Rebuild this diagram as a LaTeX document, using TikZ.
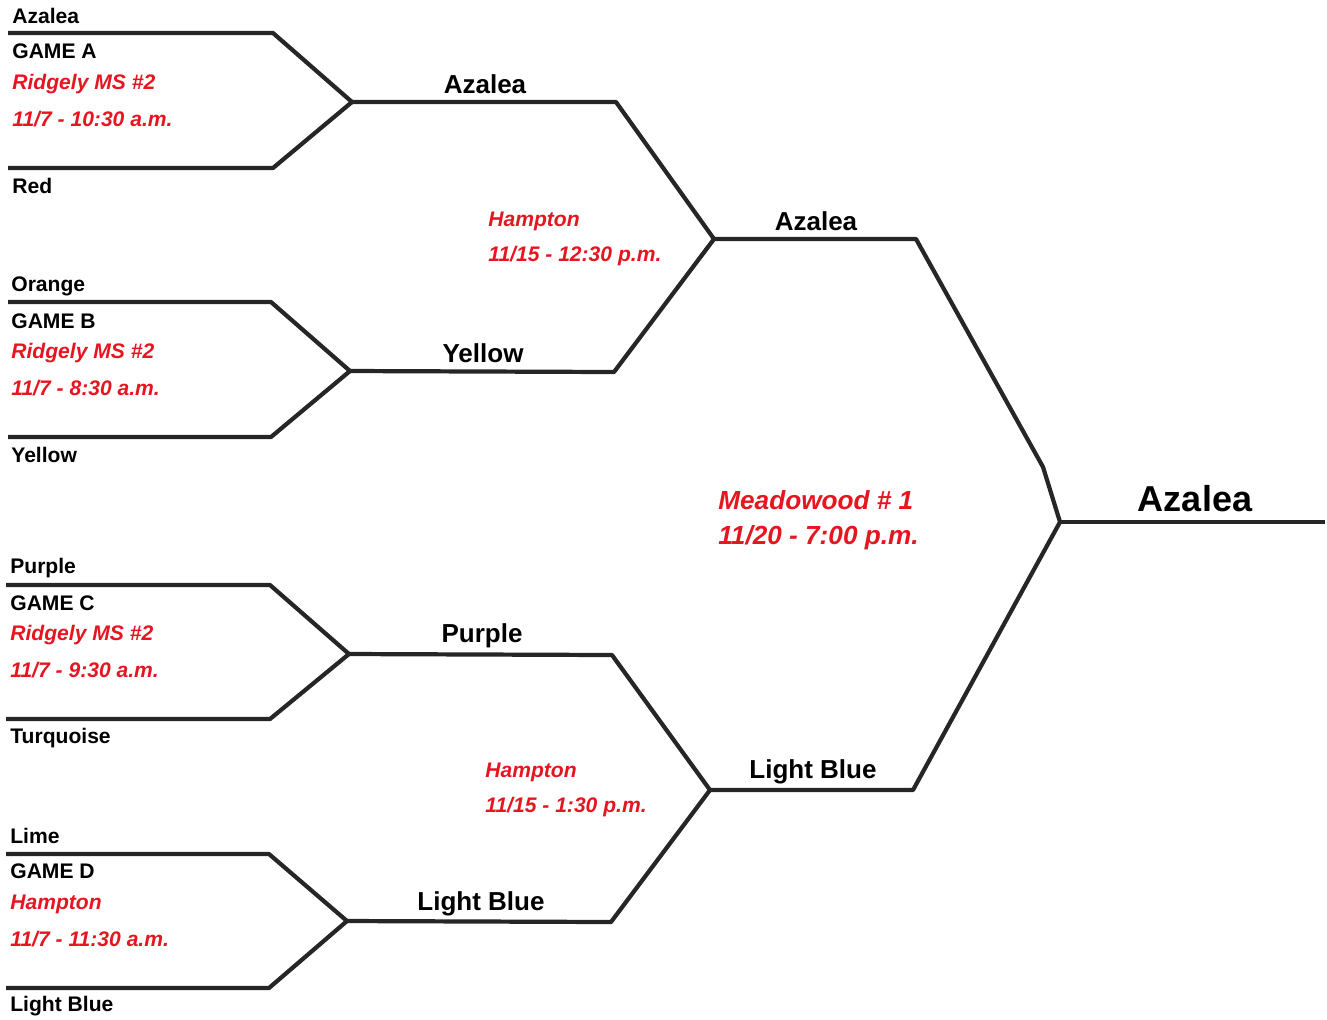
\documentclass[tikz,border=0pt]{standalone}
\usepackage{fontspec}
\setmainfont{Liberation Sans}
\definecolor{gamered}{RGB}{228,22,32}
\definecolor{linegray}{RGB}{38,38,38}
\tikzset{
  bracket/.style={draw=linegray,line width=2.4pt,line join=round},
  team/.style={anchor=west,inner sep=0pt,font=\fontsize{12}{14}\selectfont\bfseries},
  site/.style={anchor=west,inner sep=0pt,text=gamered,font=\fontsize{12}{14}\selectfont\bfseries\itshape},
  winner/.style={inner sep=0pt,font=\fontsize{14.8}{17}\selectfont\bfseries},
  champ/.style={inner sep=0pt,font=\fontsize{20.5}{24}\selectfont\bfseries},
  finalsite/.style={anchor=west,inner sep=0pt,text=gamered,font=\fontsize{14.9}{17}\selectfont\bfseries\itshape}
}
\begin{document}
\begin{tikzpicture}[x=0.02cm,y=-0.02cm]
  \useasboundingbox (0,0) rectangle (1327,1019);
  % round one
  \coordinate (a1) at (8,33);    \coordinate (a1e) at (273,33);
  \coordinate (a2) at (8,168);   \coordinate (a2e) at (273,168);
  \coordinate (aw) at (352,102);
  \coordinate (b1) at (8,302);   \coordinate (b1e) at (271,302);
  \coordinate (b2) at (8,437);   \coordinate (b2e) at (271,437);
  \coordinate (bw) at (350,371);
  \coordinate (c1) at (6,585);   \coordinate (c1e) at (270,585);
  \coordinate (c2) at (6,719);   \coordinate (c2e) at (270,719);
  \coordinate (cw) at (349,654);
  \coordinate (d1) at (6,854);   \coordinate (d1e) at (269,854);
  \coordinate (d2) at (6,988);   \coordinate (d2e) at (269,988);
  \coordinate (dw) at (347,921);
  % round two
  \coordinate (abe) at (616,102);
  \coordinate (bbe) at (614,372);
  \coordinate (ab) at (714,239);
  \coordinate (cde) at (612,655);
  \coordinate (dde) at (611,922);
  \coordinate (cd) at (710,790);
  % final
  \coordinate (abf) at (916,239);
  \coordinate (abk) at (1043,467);
  \coordinate (cdf) at (913,790);
  \coordinate (fin) at (1060,522);
  \coordinate (fine) at (1325,522);

  \draw[bracket] (a1) -- (a1e) -- (aw) -- (a2e) -- (a2);
  \draw[bracket] (b1) -- (b1e) -- (bw) -- (b2e) -- (b2);
  \draw[bracket] (c1) -- (c1e) -- (cw) -- (c2e) -- (c2);
  \draw[bracket] (d1) -- (d1e) -- (dw) -- (d2e) -- (d2);
  \draw[bracket] (aw) -- (abe) -- (ab) -- (bbe) -- (bw);
  \draw[bracket] (cw) -- (cde) -- (cd) -- (dde) -- (dw);
  \draw[bracket] (ab) -- (abf) -- (abk) -- (fin) -- (cdf) -- (cd);
  \draw[bracket] (fin) -- (fine);

  % game A
  \node[team] (ta1) at (12,16) {Azalea};
  \node[team] (ga) at (12,51) {GAME A};
  \node[site] (sa) at (12,84) {Ridgely MS \#2};
  \node[site] (da) at (12,119) {11/7 - 10:30 a.m.};
  \node[team] (ta2) at (12,186) {Red};
  % game B
  \node[team] (tb1) at (11,286) {Orange};
  \node[team] (gb) at (11,321) {GAME B};
  \node[site] (sb) at (11,353) {Ridgely MS \#2};
  \node[site] (db) at (11,388) {11/7 - 8:30 a.m.};
  \node[team] (tb2) at (11,455) {Yellow};
  % game C
  \node[team] (tc1) at (10,568) {Purple};
  \node[team] (gc) at (10,603) {GAME C};
  \node[site] (sc) at (10,635) {Ridgely MS \#2};
  \node[site] (dc) at (10,670) {11/7 - 9:30 a.m.};
  \node[team] (tc2) at (10,738) {Turquoise};
  % game D
  \node[team] (td1) at (10,836) {Lime};
  \node[team] (gd) at (10,871) {GAME D};
  \node[site] (sd) at (10,904) {Hampton};
  \node[site] (dd) at (10,939) {11/7 - 11:30 a.m.};
  \node[team] (td2) at (10,1006) {Light Blue};

  % round two
  \node[winner] (wa) at (485,84) {Azalea};
  \node[winner] (wb) at (483,353) {Yellow};
  \node[winner] (wc) at (482,636) {Purple};
  \node[winner] (wd) at (481,904) {Light Blue};
  \node[site] (sab) at (488,221) {Hampton};
  \node[site] (dab) at (488,256) {11/15 - 12:30 p.m.};
  \node[site] (scd) at (485,772) {Hampton};
  \node[site] (dcd) at (485,807) {11/15 - 1:30 p.m.};

  % final
  \node[winner] (wab) at (816,221) {Azalea};
  \node[winner] (wcd) at (813,772) {Light Blue};
  \node[finalsite] (sf) at (718,500) {Meadowood \# 1};
  \node[finalsite] (df) at (718,538) {11/20 - 7:00 p.m.};
  \node[champ] (wf) at (1195,499) {Azalea};
\end{tikzpicture}
\end{document}
